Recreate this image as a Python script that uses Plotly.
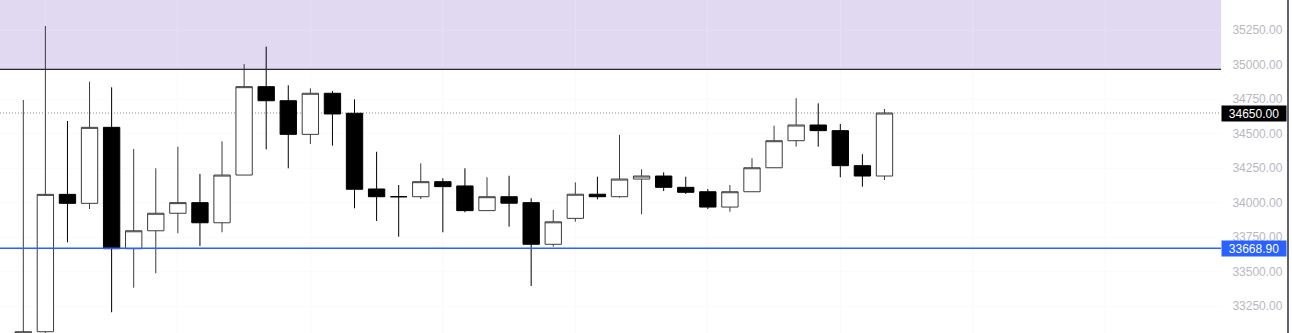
import plotly.graph_objects as go

# ---- data ----
opens  = [32950, 33064, 34060, 33995, 34546, 33666, 33796, 33923, 34000, 33854,
          34200, 34841, 34739, 34495, 34793, 34648, 34099, 34043, 34043, 34152,
          34121, 33942, 34043, 34000, 33698, 33886, 34061, 34043, 34171, 34193,
          34111, 34079, 33968, 34079, 34253, 34449, 34563, 34522, 34268, 34193]
highs  = [34744, 35281, 34592, 34877, 34836, 34389, 34249, 34406, 34208, 34445,
          35005, 35131, 34851, 34829, 34810, 34749, 34369, 34128, 34285, 34177,
          34249, 34184, 34195, 34032, 33947, 34147, 34188, 34491, 34242, 34220,
          34188, 34099, 34128, 34322, 34558, 34757, 34720, 34570, 34351, 34679]
lows   = [32900, 32980, 33712, 33954, 33205, 33383, 33488, 33778, 33686, 33785,
          34200, 34386, 34249, 34425, 34413, 33959, 33867, 33753, 34026, 33785,
          33930, 33942, 33826, 33396, 33681, 33862, 34024, 34036, 33916, 34084,
          34063, 33954, 33934, 34079, 34253, 34406, 34406, 34184, 34116, 34164]
closes = [33064, 34060, 33995, 34546, 33666, 33796, 33923, 34000, 33854, 34200,
          34841, 34739, 34495, 34793, 34643, 34097, 34043, 34043, 34152, 34116,
          33942, 34043, 33996, 33698, 33861, 34061, 34043, 34171, 34193, 34111,
          34075, 33968, 34079, 34253, 34449, 34563, 34522, 34268, 34193, 34650]
idx = list(range(len(opens)))

y_ticks = [33250, 33500, 33750, 34000, 34250, 34500, 34750, 35000, 35250]
zone_low = 34966
last_price = 34650.00
support_price = 33668.90
x_grid = [1, 7, 13, 19, 25, 31, 37, 43, 49]

Y_MIN, Y_MAX = 33054.7, 35469.4
X_MIN, X_MAX = -1.055, 54.24

fig = go.Figure()
fig.add_trace(go.Candlestick(
    x=idx, open=opens, high=highs, low=lows, close=closes,
    increasing=dict(line=dict(color="#3c3c3c", width=1), fillcolor="#ffffff"),
    decreasing=dict(line=dict(color="#000000", width=1), fillcolor="#000000"),
    whiskerwidth=0, showlegend=False, hoverinfo="skip",
))

shapes = [
    dict(type="rect", xref="paper", yref="y", x0=0, x1=1, y0=zone_low, y1=Y_MAX,
         fillcolor="#e1d9f1", line=dict(width=0), layer="below"),
    dict(type="line", xref="paper", yref="y", x0=0, x1=1, y0=zone_low, y1=zone_low,
         line=dict(color="#2a2a2a", width=1.2)),
    dict(type="line", xref="paper", yref="y", x0=0, x1=1, y0=last_price, y1=last_price,
         line=dict(color="#8a8a8a", width=1, dash="1px,2px"), layer="between"),
    dict(type="line", xref="paper", yref="y", x0=0, x1=1, y0=support_price, y1=support_price,
         line=dict(color="#2962ff", width=1.5)),
    dict(type="line", xref="paper", yref="paper", x0=1288 / 1221, x1=1288 / 1221, y0=0, y1=1,
         line=dict(color="#2a2e39", width=1.5)),
]

annotations = [
    dict(xref="paper", yref="y", x=1, y=last_price, xanchor="left", yanchor="middle",
         text=f"{last_price:.2f}", showarrow=False, bgcolor="#000000",
         font=dict(color="#ffffff", size=12, family="Liberation Sans"),
         width=64, height=15, borderpad=0, align="center"),
    dict(xref="paper", yref="y", x=1, y=support_price, xanchor="left", yanchor="middle",
         text=f"{support_price:.2f}", showarrow=False, bgcolor="#2962ff",
         font=dict(color="#ffffff", size=12, family="Liberation Sans"),
         width=64, height=15, borderpad=0, align="center"),
]

fig.update_layout(
    width=1292, height=333,
    margin=dict(l=0, r=71, t=0, b=0),
    paper_bgcolor="#ffffff", plot_bgcolor="#ffffff",
    boxgap=0.26, boxgroupgap=0,
    shapes=shapes, annotations=annotations,
    font=dict(family="Liberation Sans", size=12, color="#b8b9c2"),
    xaxis=dict(range=[X_MIN, X_MAX], rangeslider=dict(visible=False),
               showticklabels=False, tickvals=x_grid, showgrid=True,
               gridcolor="rgba(238,238,246,0.3)", gridwidth=1, zeroline=False,
               showline=False, ticks=""),
    yaxis=dict(range=[Y_MIN, Y_MAX], side="right", tickvals=y_ticks,
               ticktext=[f"{v:.2f}" for v in y_ticks], showgrid=True,
               gridcolor="rgba(238,238,246,0.25)", zeroline=False, showline=False,
               ticks="outside", ticklen=8, tickcolor="rgba(0,0,0,0)",
               tickfont=dict(size=12, color="#b8b9c2", family="Liberation Sans")),
    hovermode=False,
)

fig.write_html("out.html", config=dict(displayModeBar=False))
